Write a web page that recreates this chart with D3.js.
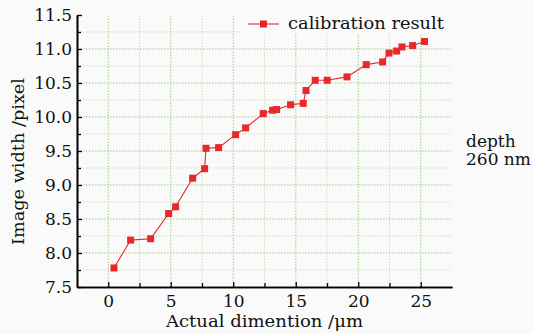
<!DOCTYPE html>
<html><head><meta charset="utf-8">
<script src="https://cdn.jsdelivr.net/npm/d3@7"></script>
<style>
html,body{margin:0;padding:0;background:#fafafa;}
svg{display:block;font-family:"DejaVu Serif",serif;}
</style></head>
<body><svg id="c" width="533" height="334"></svg>
<script>
const actualDim = [0.46,1.79,3.39,4.83,5.39,6.75,7.71,7.82,8.83,10.19,10.99,12.4,13.15,13.47,14.59,15.6,15.82,16.56,17.52,19.1,20.64,21.95,22.46,23.07,23.5,24.35,25.3];
const imageWidth = [7.78,8.19,8.21,8.58,8.68,9.10,9.24,9.54,9.55,9.74,9.84,10.05,10.10,10.11,10.18,10.20,10.39,10.54,10.54,10.59,10.77,10.81,10.94,10.97,11.03,11.05,11.11];
const xMajorTicks = [0,5,10,15,20,25];
const xMinorTicks = [2.5,7.5,12.5,17.5,22.5];
const yMajorTicks = [7.5,8.0,8.5,9.0,9.5,10.0,10.5,11.0,11.5];
const yMinorTicks = [7.75,8.25,8.75,9.25,9.75,10.25,10.75,11.25];
const seriesName = "calibration result";
const xTitle = "Actual dimention /\u03bcm";
const yTitle = "Image width /pixel";
const noteLines = ["depth","260 nm"];

const svg = d3.select("#c");
const x = d3.scaleLinear().domain([-2.5,27.5]).range([77,452]);
const y = d3.scaleLinear().domain([7.5,11.5]).range([287,15]);
const fs = 17;

// grid
const g = svg.append("g");
const gridMajor = "#9ccf86", gridMinor = "#c6e2b8";
g.selectAll(".vg").data(xMajorTicks.concat(xMinorTicks)).join("line")
  .attr("x1",d=>x(d)).attr("x2",d=>x(d)).attr("y1",y(7.5)).attr("y2",y(11.5))
  .attr("stroke",d=>xMajorTicks.includes(d)?gridMajor:gridMinor).attr("stroke-width",1).attr("stroke-dasharray","1.5,1.5");
g.selectAll(".hg").data(yMajorTicks.slice(1,-1).concat(yMinorTicks)).join("line")
  .attr("x1",x(-2.5)).attr("x2",x(27.5)).attr("y1",d=>y(d)).attr("y2",d=>y(d))
  .attr("stroke",d=>yMajorTicks.includes(d)?gridMajor:gridMinor).attr("stroke-width",1).attr("stroke-dasharray","1.5,1.5");

// legend background
svg.append("rect").attr("x",243).attr("y",y(11.5)).attr("width",x(27.5)-243).attr("height",19).attr("fill","#fafafa");

// axes
const xAxis = svg.append("g").attr("transform",`translate(0,${y(7.5)})`)
  .call(d3.axisBottom(x).tickValues(xMajorTicks).tickFormat(d3.format("d")).tickSizeInner(-5).tickSizeOuter(0).tickPadding(8));
const xAxisMinor = svg.append("g").attr("transform",`translate(0,${y(7.5)})`)
  .call(d3.axisBottom(x).tickValues(xMinorTicks).tickFormat("").tickSizeInner(-4).tickSizeOuter(0));
const yAxis = svg.append("g").attr("transform",`translate(${x(-2.5)},0)`)
  .call(d3.axisLeft(y).tickValues(yMajorTicks).tickFormat(d3.format(".1f")).tickSizeInner(-5).tickSizeOuter(0).tickPadding(5));
const yAxisMinor = svg.append("g").attr("transform",`translate(${x(-2.5)},0)`)
  .call(d3.axisLeft(y).tickValues(yMinorTicks).tickFormat("").tickSizeInner(-4).tickSizeOuter(0));
[xAxis,xAxisMinor,yAxis,yAxisMinor].forEach(a=>{
  a.select(".domain").attr("stroke","#000").attr("stroke-width",1.6);
  a.selectAll(".tick line").attr("stroke","#000").attr("stroke-width",1.3);
  a.selectAll("text").attr("font-family","DejaVu Serif").attr("font-size",fs).attr("fill","#111");
});

// series
const pts = actualDim.map((d,i)=>[d,imageWidth[i]]);
const red = "#e8282b";
svg.append("path").datum(pts)
  .attr("d",d3.line().x(d=>x(d[0])).y(d=>y(d[1])))
  .attr("fill","none").attr("stroke",red).attr("stroke-width",1.1);
const ms = 7;
svg.selectAll(".m").data(pts).join("rect")
  .attr("x",d=>x(d[0])-ms/2).attr("y",d=>y(d[1])-ms/2).attr("width",ms).attr("height",ms)
  .attr("fill",red);

// legend
svg.append("line").attr("x1",248).attr("x2",279).attr("y1",24).attr("y2",24).attr("stroke",red).attr("stroke-width",1.1);
svg.append("rect").attr("x",263.5-ms/2).attr("y",24-ms/2).attr("width",ms).attr("height",ms).attr("fill",red);
svg.append("text").attr("x",288).attr("y",29).attr("font-size",fs).attr("fill","#111")
  .attr("textLength",156).attr("lengthAdjust","spacingAndGlyphs").text(seriesName);

// titles
svg.append("text").attr("x",166).attr("y",327).attr("font-size",fs).attr("fill","#111")
  .attr("textLength",197).attr("lengthAdjust","spacingAndGlyphs").text(xTitle);
svg.append("text").attr("transform","translate(24,245) rotate(-90)").attr("font-size",fs).attr("fill","#111")
  .attr("textLength",167).attr("lengthAdjust","spacingAndGlyphs").text(yTitle);
svg.append("text").attr("font-size",fs).attr("fill","#111").selectAll("tspan").data(noteLines).join("tspan")
  .attr("x",466).attr("y",(d,i)=>146.5+i*18.5).text(d=>d);
</script></body></html>
